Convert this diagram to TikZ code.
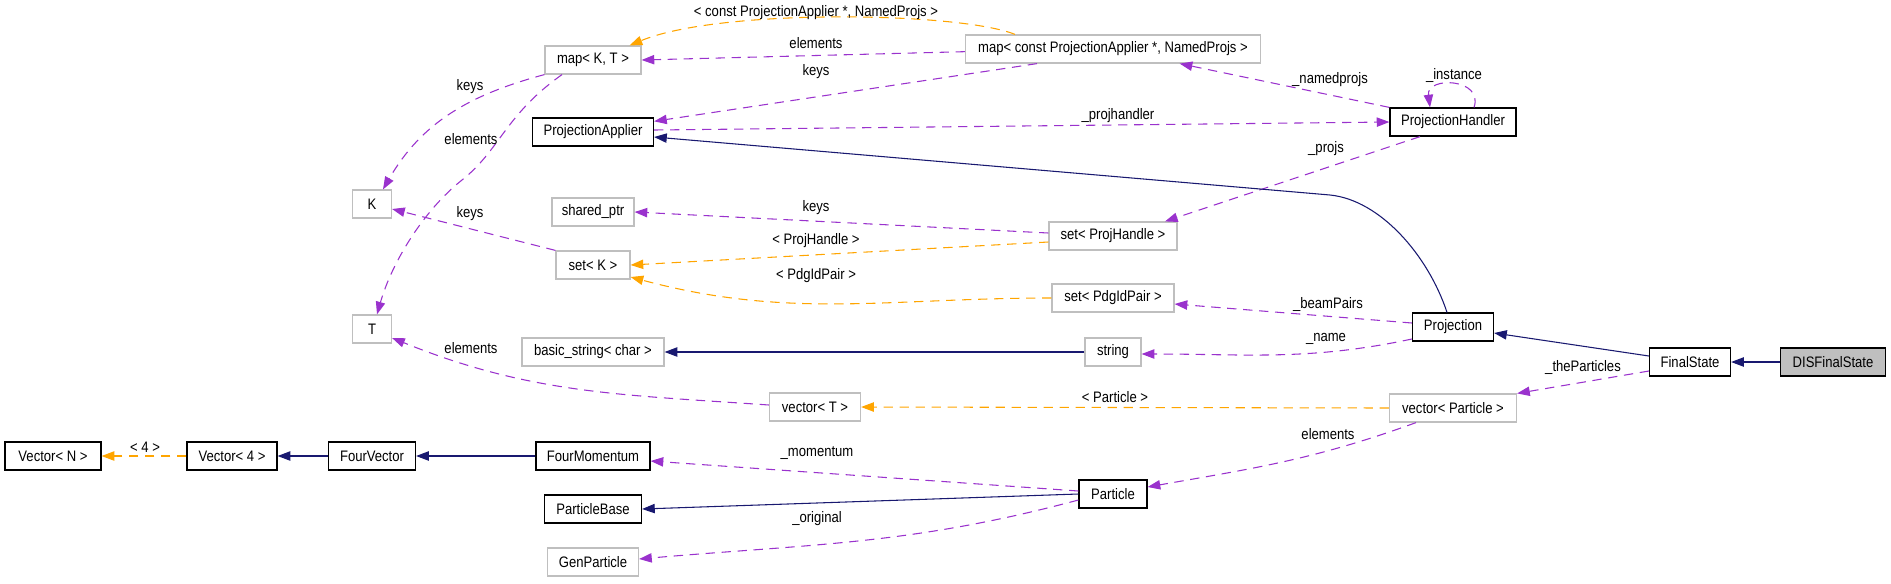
\documentclass[tikz,border=0pt]{standalone}
\usepackage{fontspec}
\setmainfont{Liberation Sans}[FakeStretch=0.86]
\usetikzlibrary{arrows.meta}
\definecolor{edgepurple}{HTML}{9A32CD}
\definecolor{edgeorange}{HTML}{FFA500}
\definecolor{edgenavy}{HTML}{191970}
\definecolor{boxgray}{HTML}{BFBFBF}
\begin{document}
\begin{tikzpicture}[x=0.75pt,y=-0.75pt,
  cls/.style={draw=black, line width=0.9pt, minimum height=21pt, inner sep=0pt,
    font=\fontsize{11.4pt}{12pt}\selectfont, fill=white},
  ext/.style={cls, draw=boxgray},
  bw/.style={minimum width=#1*0.75pt},
  lbl/.style={inner sep=0pt, font=\fontsize{11.4pt}{12pt}\selectfont},
  tip/.style={-{Triangle[length=9.5pt,width=7pt]}},
  purp/.style={draw=edgepurple, line width=0.8pt, dash pattern=on 7pt off 5pt, tip},
  orng/.style={draw=edgeorange, line width=0.8pt, dash pattern=on 7pt off 5pt, tip},
  inh/.style={draw=edgenavy, line width=0.8pt, tip}]
\useasboundingbox (0,0) rectangle (1891,583);

% nodes
\node[ext,bw=96]  (mapKT)   at (593,60)  {map< K, T >};
\node[ext,bw=39]  (K)       at (372,204) {K};
\node[cls,bw=121] (PA)      at (593,132) {ProjectionApplier};
\node[ext,bw=82]  (sptr)    at (593,212) {shared\_ptr};
\node[ext,bw=74]  (setK)    at (593,265) {set< K >};
\node[ext,bw=295] (mapC)    at (1113,49) {map< const ProjectionApplier *, NamedProjs >};
\node[ext,bw=128] (setPH)   at (1113,236) {set< ProjHandle >};
\node[ext,bw=122] (setPdg)  at (1113,298) {set< PdgIdPair >};
\node[cls,bw=126] (PH)      at (1453,122) {ProjectionHandler};
\node[ext,bw=39]  (T)       at (372,329) {T};
\node[ext,bw=142] (bstr)    at (593,352) {basic\_string< char >};
\node[cls,bw=96]  (VecN)    at (53,456)  {Vector< N >};
\node[cls,bw=90]  (Vec4)    at (232,456) {Vector< 4 >};
\node[cls,bw=87]  (FV)      at (372,456) {FourVector};
\node[cls,bw=114] (FM)      at (593,456) {FourMomentum};
\node[cls,bw=97]  (PB)      at (593,509) {ParticleBase};
\node[ext,bw=91]  (GP)      at (593,562) {GenParticle};
\node[ext,bw=56]  (str)     at (1113,352) {string};
\node[ext,bw=91]  (vecT)    at (815,407) {vector< T >};
\node[cls,bw=68]  (Part)    at (1113,494) {Particle};
\node[cls,bw=81]  (Proj)    at (1453,327) {Projection};
\node[cls,bw=81]  (FS)      at (1690,362) {FinalState};
\node[cls,bw=105,fill=boxgray] (DIS) at (1833,362) {DISFinalState};
\node[ext,bw=127] (vecP)    at (1453,408) {vector< Particle >};

% edges
\draw[orng] ([xshift=-73.5pt]mapC.north) .. controls (960,12) and (720,8) .. ([xshift=-9pt]mapKT.north east);
\draw[purp] ([yshift=-2pt]mapC.west) -- (mapKT.east);
\draw[purp] ([xshift=-57pt]mapC.south) -- ([yshift=8pt]PA.east);
\draw[purp] (PH.north west) -- ([xshift=50pt]mapC.south);
\draw[purp] ([yshift=1.5pt]PA.east) -- (PH.west);
\draw[purp] ([xshift=15.75pt]PH.north) .. controls (1484,78) and (1426,76) .. ([xshift=-17.25pt]PH.north);
\draw[purp] ([xshift=-24.75pt]PH.south) -- ([xshift=39pt]setPH.north);
\draw[inh] ([xshift=-4.5pt]Proj.north) .. controls (1428,255) and (1380,200) .. (1330,195) -- ([yshift=-3.75pt]PA.east);
\draw[purp] ([yshift=2.25pt]setPH.west) -- (sptr.east);
\draw[orng] ([yshift=-4.5pt]setPH.west) -- (setK.east);
\draw[orng] (setPdg.west) to[out=180,in=-15] ([yshift=-9pt]setK.east);
\draw[purp] (setK.north west) -- ([yshift=-3.75pt]K.east);
\draw[purp] (mapKT.south west) to[out=195,in=60] ([xshift=8.25pt]K.north);
\draw[purp] ([xshift=-23.25pt]mapKT.south) .. controls (505,115) and (500,150) .. (462,180)
   .. controls (424,210) and (392,262) .. ([xshift=3.75pt]T.north);
\draw[purp] ([yshift=1.5pt]vecT.west) to[out=176,in=-22] ([yshift=-6.75pt]T.east);
\draw[purp] ([yshift=3pt]Proj.west) -- ([yshift=-4.5pt]setPdg.east);
\draw[purp] ([yshift=-9pt]Proj.west) to[out=192,in=0] ([yshift=-1.5pt]str.east);
\draw[inh] (str.west) -- (bstr.east);
\draw[orng] (vecP.west) -- (vecT.east);
\draw[inh] ([yshift=4.5pt]FS.west) -- ([yshift=-4.5pt]Proj.east);
\draw[inh] (DIS.west) -- (FS.east);
\draw[purp] ([yshift=-6.75pt]FS.west) -- (vecP.north east);
\draw[purp] ([xshift=-27.75pt]vecP.south) to[out=200,in=10] ([yshift=5.25pt]Part.east);
\draw[purp] ([yshift=2.25pt]Part.west) -- ([yshift=-3.75pt]FM.east);
\draw[inh] (Part.west) -- (PB.east);
\draw[purp] ([yshift=-4.5pt]Part.west) to[out=195,in=5] ([yshift=2.25pt]GP.east);
\draw[inh] (FM.west) -- (FV.east);
\draw[inh] (FV.west) -- (Vec4.east);
\draw[orng] (Vec4.west) -- (VecN.east);

% labels
\node[lbl] (l1)  at (816,13)   {< const ProjectionApplier *, NamedProjs >};
\node[lbl] (l2)  at (816,43)   {elements};
\node[lbl] (l3)  at (816,72)   {keys};
\node[lbl] (l4)  at (1330,80)  {\_namedprojs};
\node[lbl] (l5)  at (1118,116) {\_projhandler};
\node[lbl] (l6)  at (1454,75)  {\_instance};
\node[lbl] (l7)  at (1326,149) {\_projs};
\node[lbl] (l8)  at (816,208)  {keys};
\node[lbl] (l9)  at (816,241)  {< ProjHandle >};
\node[lbl] (l10) at (816,276)  {< PdgIdPair >};
\node[lbl] (l11) at (470,214)  {keys};
\node[lbl] (l12) at (470,87)   {keys};
\node[lbl] (l13) at (471,139)  {elements};
\node[lbl] (l14) at (471,348)  {elements};
\node[lbl] (l15) at (1328,304) {\_beamPairs};
\node[lbl] (l16) at (1326,339) {\_name};
\node[lbl] (l17) at (1115,397) {< Particle >};
\node[lbl] (l18) at (1583,367) {\_theParticles};
\node[lbl] (l19) at (1328,434) {elements};
\node[lbl] (l20) at (817,453)  {\_momentum};
\node[lbl] (l21) at (817,519)  {\_original};
\node[lbl] (l22) at (145,447)  {< 4 >};
\end{tikzpicture}
\end{document}
